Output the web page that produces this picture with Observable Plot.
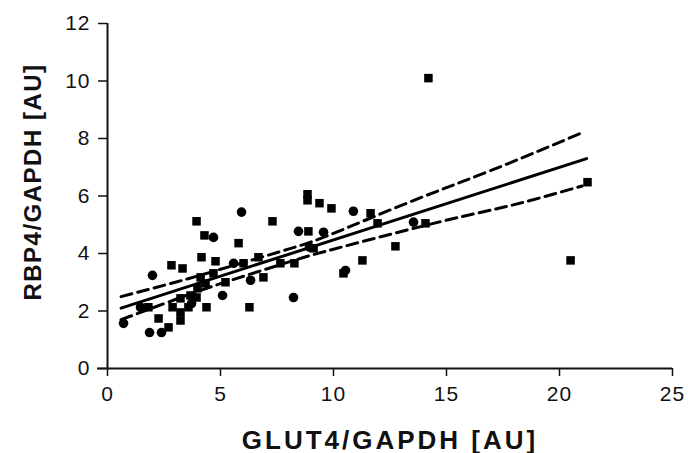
<!DOCTYPE html>
<html>
<head>
<meta charset="utf-8">
<script src="https://cdn.jsdelivr.net/npm/d3@7"></script>
<script src="https://cdn.jsdelivr.net/npm/@observablehq/plot@0.6"></script>
<style>
  html, body { margin: 0; padding: 0; background: #fff; }
</style>
</head>
<body>
<div id="chart"></div>
<script>
const xLabel = "GLUT4/GAPDH [AU]";
const yLabel = "RBP4/GAPDH [AU]";
const xTicks = [0, 5, 10, 15, 20, 25];
const yTicks = [0, 2, 4, 6, 8, 10, 12];

// circles
const circleX = [0.71, 1.86, 2.39, 1.99, 5.93, 4.69, 8.45, 5.09, 8.23, 6.33, 10.88, 9.56, 10.53, 13.54, 5.58, 8.94, 1.46, 3.72];
const circleY = [1.57, 1.25, 1.25, 3.24, 5.44, 4.56, 4.77, 2.54, 2.47, 3.07, 5.47, 4.74, 3.41, 5.09, 3.66, 4.22, 2.13, 2.26];

// squares
const squareX = [3.94, 7.30, 4.29, 5.80, 4.16, 4.78, 2.83, 3.32, 4.38, 6.28, 6.90, 7.65, 8.27, 6.68, 4.34, 4.69, 5.22, 4.12, 3.94, 3.23, 2.88, 3.23, 3.58, 2.26, 3.23, 2.70, 1.81, 8.85, 8.85, 9.38, 9.91, 11.64, 11.95, 8.89, 12.74, 11.28, 10.44, 14.07, 14.2, 20.49, 21.24, 6.02, 9.12, 3.98, 3.67];
const squareY = [5.12, 5.12, 4.63, 4.36, 3.87, 3.73, 3.59, 3.48, 2.13, 2.13, 3.17, 3.66, 3.66, 3.87, 2.96, 3.31, 3.00, 3.17, 2.47, 2.44, 2.13, 1.95, 2.13, 1.74, 1.67, 1.43, 2.13, 6.06, 5.85, 5.75, 5.57, 5.40, 5.05, 4.77, 4.25, 3.76, 3.31, 5.05, 10.1, 3.76, 6.48, 3.66, 4.18, 2.79, 2.54];

// regression line and confidence limits
const fitX = [0.6, 21.2];
const fitY = [2.1, 7.3];
const upperX = [0.6, 3, 5, 8, 10, 13.4, 17, 21];
const upperY = [2.5, 3.0, 3.45, 4.15, 4.7, 5.8, 6.9, 8.2];
const lowerX = [0.6, 3, 5, 8, 10, 14.7, 18, 21];
const lowerY = [1.7, 2.4, 2.95, 3.7, 4.15, 5.1, 5.7, 6.35];

const circles = circleX.map((x, i) => ({x, y: circleY[i]}));
const squares = squareX.map((x, i) => ({x, y: squareY[i]}));
const fit = fitX.map((x, i) => ({x, y: fitY[i]}));
const upper = upperX.map((x, i) => ({x, y: upperY[i]}));
const lower = lowerX.map((x, i) => ({x, y: lowerY[i]}));

const chart = Plot.plot({
  width: 688,
  height: 453,
  marginLeft: 107,
  marginRight: 16,
  marginTop: 23,
  marginBottom: 85,
  x: {domain: [0, 25]},
  y: {domain: [0, 12]},
  style: {fontFamily: "'Liberation Sans', Arial, sans-serif", fontSize: "21px", color: "#111", background: "#fff", overflow: "visible"},
  marks: [
    Plot.axisY({ticks: yTicks, tickSize: 9, tickPadding: 8, strokeWidth: 1.5, fontSize: 21, label: yLabel, labelArrow: "none", labelAnchor: "center", labelOffset: 84}),
    Plot.axisX({ticks: xTicks, tickSize: 8, tickPadding: 10, strokeWidth: 1.5, fontSize: 21, label: xLabel, labelArrow: "none", labelAnchor: "center", labelOffset: 80}),
    Plot.ruleX([0], {stroke: "#111", strokeWidth: 2}),
    Plot.ruleY([0], {stroke: "#111", strokeWidth: 2, insetLeft: -10}),
    Plot.line(upper, {x: "x", y: "y", curve: "natural", stroke: "#000", strokeWidth: 3, strokeDasharray: "11,6"}),
    Plot.line(lower, {x: "x", y: "y", curve: "natural", stroke: "#000", strokeWidth: 3, strokeDasharray: "11,6"}),
    Plot.line(fit, {x: "x", y: "y", stroke: "#000", strokeWidth: 3}),
    Plot.dot(circles, {x: "x", y: "y", r: 4.8, fill: "#000", stroke: "none"}),
    Plot.dot(squares, {x: "x", y: "y", r: 4.8, symbol: "square", fill: "#000", stroke: "none"})
  ]
});

// style axis titles and tick labels
chart.querySelectorAll('[aria-label="x-axis tick label"] text, [aria-label="y-axis tick label"] text').forEach(t => {
  t.style.fontSize = "21px";
  t.style.letterSpacing = "1px";
  t.style.fill = "#111";
});
chart.querySelectorAll('[aria-label="x-axis label"] text').forEach(t => {
  t.textContent = t.textContent.replace(/\s*[→↑←↓]\s*/g, "");
  t.style.fontWeight = "bold";
  t.style.fontSize = "26px";
  t.style.letterSpacing = "3px";
  t.style.fill = "#111";
});
chart.querySelectorAll('[aria-label="y-axis label"] text').forEach(t => {
  t.textContent = t.textContent.replace(/\s*[→↑←↓]\s*/g, "");
  t.style.fontWeight = "bold";
  t.style.fontSize = "24px";
  t.style.letterSpacing = "1.5px";
  t.style.fill = "#111";
  t.setAttribute("dx", "14");
});

document.getElementById("chart").appendChild(chart);
</script>
</body>
</html>
